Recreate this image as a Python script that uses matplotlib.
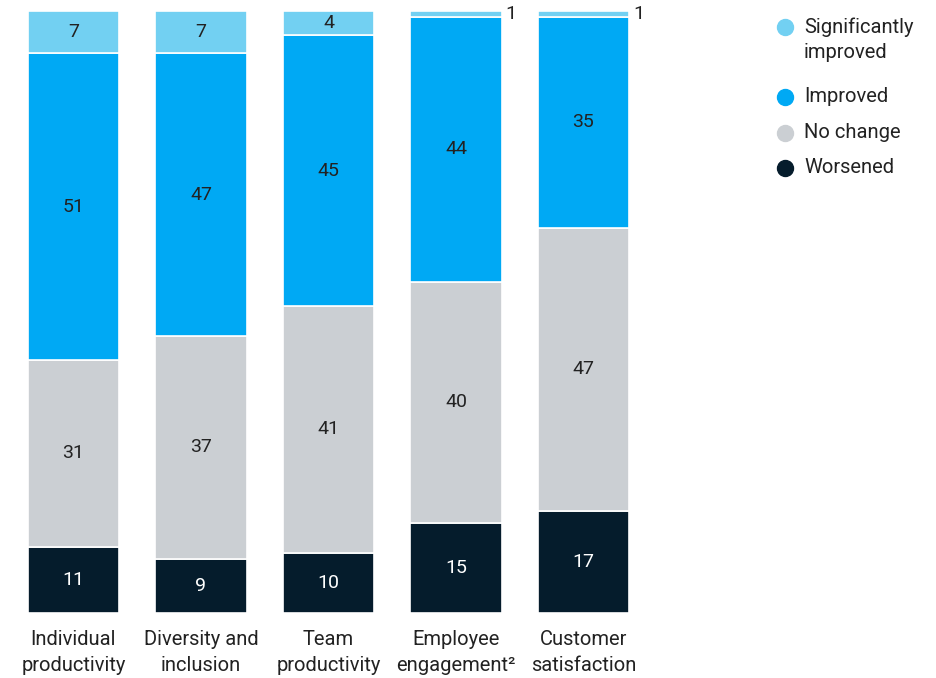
import matplotlib.pyplot as plt
from matplotlib.lines import Line2D
import numpy as np

plt.rcParams['font.family'] = ['Roboto', 'DejaVu Sans']

# Data
categories = ['Individual\nproductivity', 'Diversity and\ninclusion', 'Team\nproductivity',
              'Employee\nengagement²', 'Customer\nsatisfaction']
worsened = [11, 9, 10, 15, 17]
no_change = [31, 37, 41, 40, 47]
improved = [51, 47, 45, 44, 35]
sig_improved = [7, 7, 4, 1, 1]

series = [worsened, no_change, improved, sig_improved]
series_names = ['Worsened', 'No change', 'Improved', 'Significantly\nimproved']
colors = ['#051C2C', '#CBCFD3', '#00A9F4', '#72D0F2']
text_colors = ['white', '#222222', '#222222', '#222222']

fig = plt.figure(figsize=(9.37, 6.78), dpi=100)
ax = fig.add_axes([9.75 / 937, 65 / 678, 637.5 / 937, 602 / 678])

x = np.arange(len(categories))
bottom = np.zeros(len(categories))
for vals, col, tcol in zip(series, colors, text_colors):
    vals = np.array(vals, dtype=float)
    ax.bar(x, vals, bottom=bottom, width=0.714, color=col, edgecolor='white', linewidth=1.2)
    for xi, b, v in zip(x, bottom, vals):
        if v >= 3:
            ax.text(xi, b + v / 2, f'{int(v)}', ha='center', va='center',
                    fontsize=14, color=tcol)
        else:
            # tiny segment: label goes outside, to the right
            ax.text(xi + 0.39, b + v / 2, f'{int(v)}', ha='left', va='center',
                    fontsize=14, color='#222222')
    bottom += vals

ax.set_xlim(-0.5, 4.5)
ax.set_ylim(0, 100)
ax.set_xticks(x)
ax.set_xticklabels(categories, fontsize=14.5, color='#222222', linespacing=1.48)
ax.tick_params(axis='x', length=0, pad=12)
ax.set_yticks([])
for s in ax.spines.values():
    s.set_visible(False)

# Legend drawn by hand (figure pixels from the top)
legend_rows = [(3, 27), (2, 97), (1, 133), (0, 168)]
for idx, ypx in legend_rows:
    fig.add_artist(Line2D([785 / 937], [1 - ypx / 678], marker='o', markersize=11.5,
                          color=colors[idx], linestyle='none', transform=fig.transFigure))
    for k, line in enumerate(series_names[idx].split('\n')):
        fig.text(804 / 937, 1 - (ypx + 26 * k) / 678, line, ha='left', va='center',
                 fontsize=14.5, color='#222222')

fig.savefig('out.png', dpi=100)
